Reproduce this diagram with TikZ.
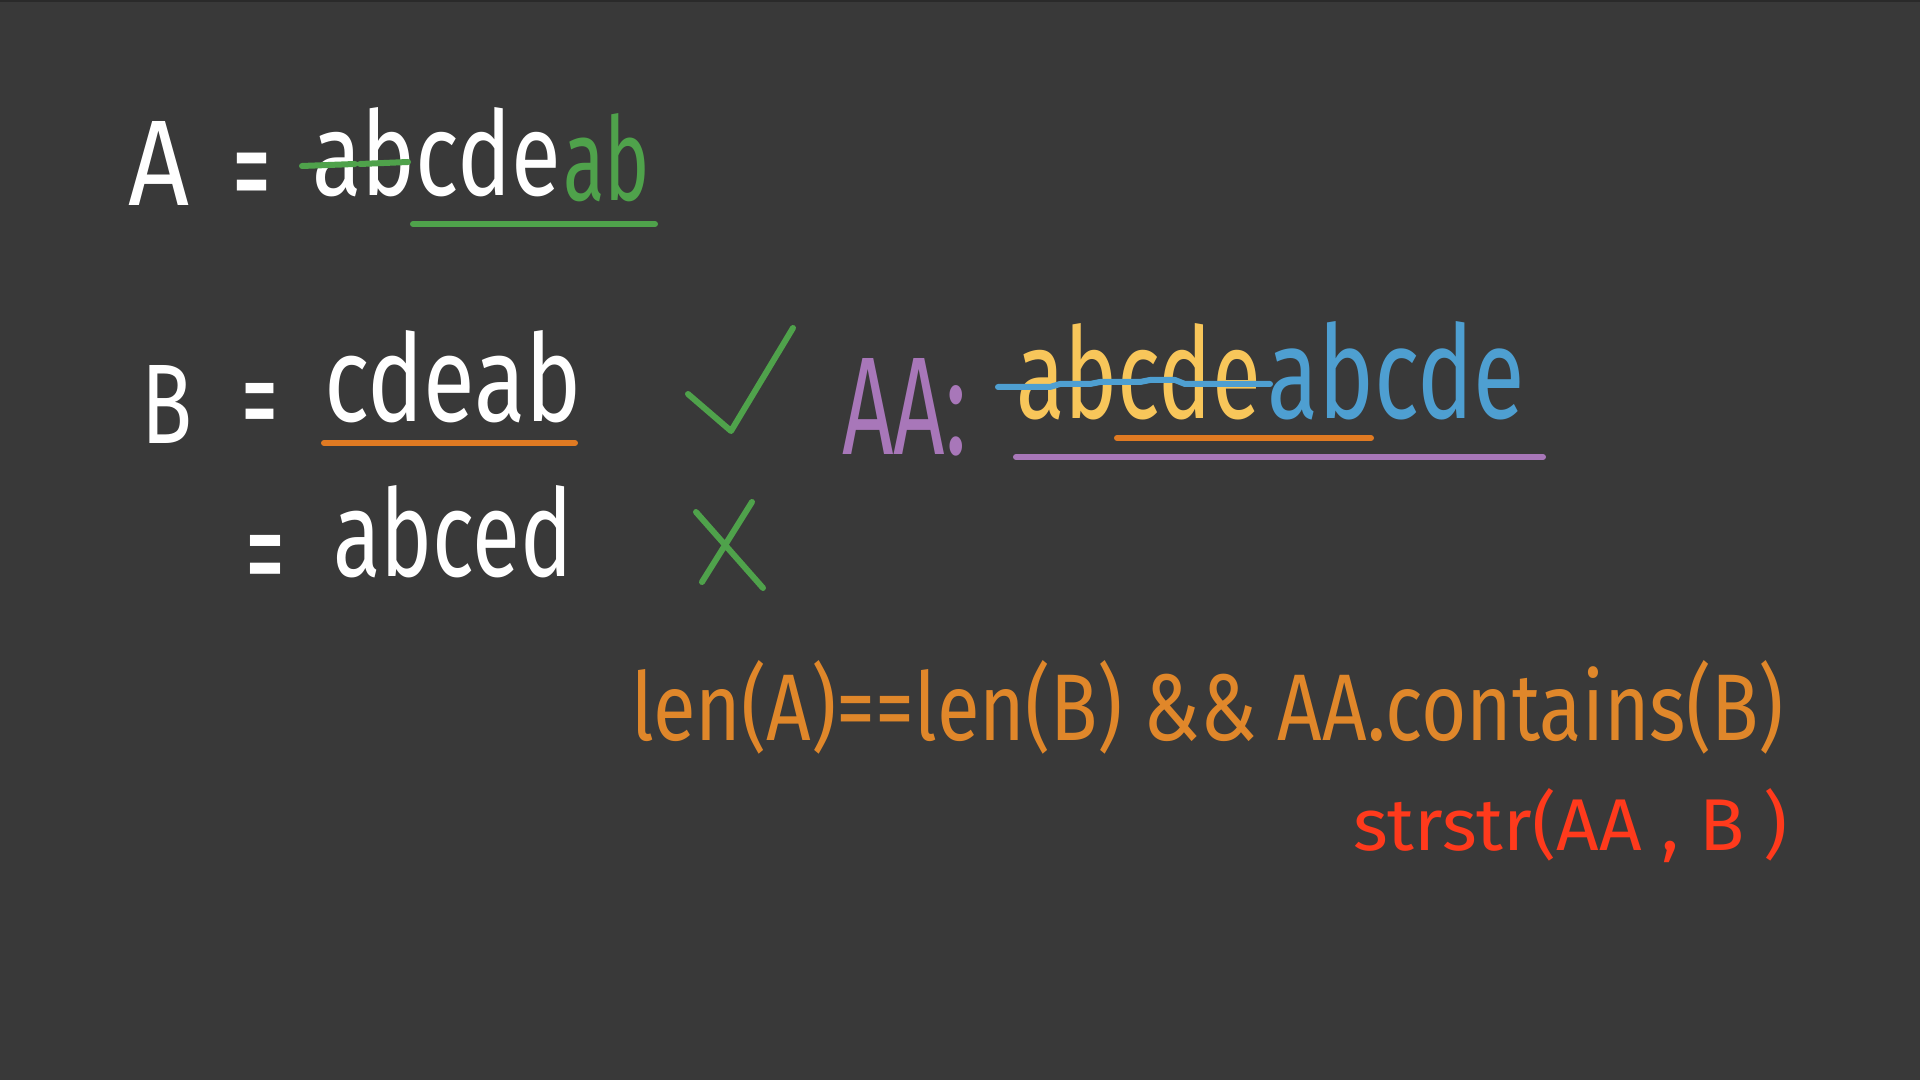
\documentclass[tikz,border=0pt]{standalone}
\usepackage{fontspec}
\setmainfont{Fira Sans}
\usepackage{graphicx}
\newlength\px \setlength\px{0.01cm}
\definecolor{bgc}{HTML}{393939}
\definecolor{edge}{HTML}{2A2A2A}
\definecolor{grn}{HTML}{4FA24B}
\definecolor{org}{HTML}{E07A22}
\definecolor{forg}{HTML}{E0872A}
\definecolor{ylw}{HTML}{F8C65A}
\definecolor{blu}{HTML}{4E9FD1}
\definecolor{pur}{HTML}{A877B9}
\definecolor{rd}{HTML}{FF3A1C}
\tikzset{
  hw/.style={inner sep=0pt, outer sep=0pt, anchor=base west},
  eqs/.style={inner sep=0pt, outer sep=0pt, text=white},
  pen/.style={line width=0.06cm, line cap=round, line join=round}
}
\begin{document}
\begin{tikzpicture}[x=0.01cm,y=-0.01cm]
\fill[bgc] (0,0) rectangle (1920,1080);
\fill[edge] (0,0) rectangle (1920,2);
\useasboundingbox (0,0) rectangle (1920,1080);

% Row A
\node[hw, text=white] (A) at (129,206) {\resizebox{61\px}{84\px}{A}};
\node[eqs] (eqA) at (252,186) {\scalebox{1}[1.8]{\resizebox{39\px}{!}{=}}};
\node[hw, text=white] (Aw) at (312,196) {\resizebox{249\px}{88\px}{abcde}};
\node[hw, text=grn] (Ag) at (563,201) {\resizebox{87\px}{87\px}{ab}};
\draw[pen, grn] (302,166) -- (355,164) (360,164) -- (408,162);
\draw[pen, grn] (413,224) -- (655,224);

% Row B
\node[hw, text=white] (B) at (141,444) {\resizebox{51\px}{78\px}{B}};
\node[eqs] (eqB) at (260,414) {\scalebox{1}[1.8]{\resizebox{37\px}{!}{=}}};
\node[hw, text=white] (Bw) at (324,422) {\resizebox{258\px}{91\px}{cdeab}};
\draw[pen, org] (324,443) -- (575,443);
\draw[pen, grn] (688,394) -- (731,431) -- (793,328);

% Row 3
\node[eqs] (eqC) at (265,569) {\scalebox{1}[1.8]{\resizebox{40\px}{!}{=}}};
\node[hw, text=white] (Cw) at (333,577) {\resizebox{240\px}{91\px}{abced}};
\draw[pen, grn] (696,512) -- (763,588) (752,502) -- (702,582);

% AA
\node[hw, text=pur] (AA) at (842,455) {\resizebox{125\px}{96\px}{AA:}};
\node[hw, text=ylw] (AAy) at (1016,419) {\resizebox{245\px}{95\px}{abcde}};
\node[hw, text=blu] (AAb) at (1267,419) {\resizebox{258\px}{97\px}{abcde}};
\draw[pen, blu] (998,387) -- (1050,387) -- (1060,384) -- (1090,384) -- (1100,382) -- (1140,382) -- (1150,380) -- (1175,380) -- (1185,384) -- (1270,384);
\draw[pen, org] (1117,438) -- (1371,438);
\draw[pen, pur] (1016,457) -- (1543,457);

% formulas
\node[hw, text=forg] (F1) at (631,741) {\resizebox{1153\px}{80\px}{len(A)==len(B) \&\& AA.contains(B)}};
\node[hw, text=rd] (F2) at (1353,851) {\resizebox{435\px}{62\px}{strstr(AA , B )}};
\end{tikzpicture}
\end{document}
